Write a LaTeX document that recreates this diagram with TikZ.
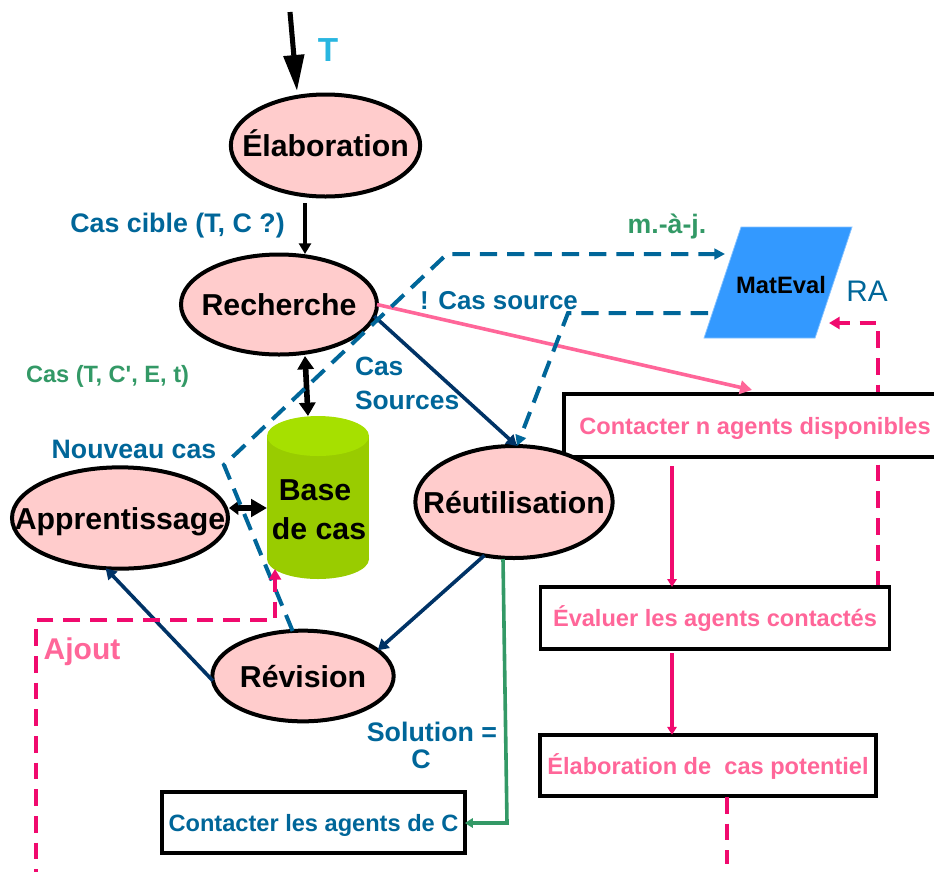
\documentclass[tikz,border=0pt]{standalone}
\usepackage{fontspec}
\setmainfont{Liberation Sans}
\usetikzlibrary{arrows.meta,shapes.geometric}
\definecolor{teal1}{HTML}{006699}
\definecolor{navy1}{HTML}{003366}
\definecolor{green1}{HTML}{339966}
\definecolor{pink1}{HTML}{FF6699}
\definecolor{mag1}{HTML}{F00A6E}
\definecolor{sky1}{HTML}{29B6E0}
\definecolor{rose1}{HTML}{FFCCCC}
\definecolor{cylbody}{HTML}{99CC00}
\definecolor{cyltop}{HTML}{A6E000}
\definecolor{para1}{HTML}{3399FF}
\pgfdeclarelayer{behind}
\pgfsetlayers{behind,main}
\newcommand{\ztext}[1]{\makebox[0pt]{\raisebox{-.37em}[0pt][0pt]{#1}}}
\newcommand{\zbox}[1]{\makebox[0pt]{\raisebox{-.37em}[0pt][0pt]{#1}}}
\tikzset{
  x=0.75pt,y=-0.75pt,
  stage/.style={ellipse,draw=black,line width=3pt,fill=rose1,inner sep=0pt,outer sep=0pt,font=\bfseries\fontsize{22.7}{27}\selectfont,text=black},
  actbox/.style={rectangle,draw=black,line width=2.6pt,fill=white,inner sep=0pt,outer sep=0pt,font=\bfseries\fontsize{17.7}{21}\selectfont},
  lab/.style={inner sep=0pt,outer sep=0pt,font=\bfseries\fontsize{20.1}{20.3}\selectfont,text=teal1},
  blk/.style={draw=black,line width=3pt},
  nav/.style={draw=navy1,line width=2.7pt,-{Triangle[length=8pt,width=9pt]}},
  tdash/.style={draw=teal1,line width=3pt,dash pattern=on 13pt off 7.5pt},
  mdash/.style={draw=mag1,line width=3pt,dash pattern=on 12.5pt off 7.5pt},
}
\begin{document}
\begin{tikzpicture}
\useasboundingbox (0,0) rectangle (934,872);
% cylinder body
\fill[cylbody] (267,436) rectangle (369,559);
\fill[cylbody] (318,559) ellipse [x radius=51,y radius=20];
\fill[cyltop] (318,436) ellipse [x radius=51,y radius=20];
\node[inner sep=0pt,minimum width=76.5pt,minimum height=122pt,align=center,font=\bfseries\fontsize{22.7}{29.5}\selectfont] (base) at (319,510) {Base\hspace*{6pt}\\de cas};
% parallelogram
\fill[para1,draw=para1!60!white,line width=0.6pt] (741,227) -- (852,227) -- (815,338) -- (704,338) -- cycle;
\node[inner sep=0pt,font=\bfseries\fontsize{17.8}{21}\selectfont] (mat) at (781,285) {MatEval};
% stages
\node[stage,minimum width=142pt,minimum height=76.5pt] (elab) at (325.5,145.5) {\ztext{Élaboration}};
\node[stage,minimum width=147pt,minimum height=75pt] (rech) at (279,304.5) {\ztext{Recherche}};
\node[stage,minimum width=162pt,minimum height=76pt] (appr) at (120,518) {\ztext{Apprentissage}};
\node[actbox,minimum width=286.5pt,minimum height=47pt,text=pink1] (ctc) at (755,425.5) {\zbox{Contacter n agents disponibles}};
\node[stage,minimum width=148pt,minimum height=84pt] (reut) at (514,502) {\ztext{Réutilisation}};
\node[stage,minimum width=136pt,minimum height=68pt] (rev) at (303,676) {\ztext{Révision}};
\node[actbox,minimum width=262pt,minimum height=46.5pt,text=pink1] (ev) at (715,618) {\zbox{Évaluer les agents contactés}};
\node[actbox,minimum width=252pt,minimum height=46pt,text=pink1] (pot) at (708,765.5) {\zbox{Élaboration de\ \ cas potentiel}};
\node[actbox,minimum width=227pt,minimum height=46pt,text=teal1] (cta) at (313.5,822.5) {\zbox{Contacter les agents de C}};
% labels
\node[lab,text=sky1,font=\bfseries\fontsize{25}{28}\selectfont] (tT) at (328,50) {T};
\node[lab] (lcible) at (177.5,226) {Cas cible (T, C ?)};
\node[lab,text=green1,font=\bfseries\fontsize{17.7}{20}\selectfont] (lcas) at (107.5,376) {Cas (T, C\textquotesingle, E, t)};
\node[lab,anchor=west,align=left,font=\bfseries\fontsize{19.8}{25.5}\selectfont] (lsrc) at (355,383) {Cas\\Sources};
\node[lab,font=\bfseries\fontsize{20}{22}\selectfont] (lnv) at (134,449) {Nouveau cas};
\node[lab,font=\bfseries\fontsize{19.4}{23}\selectfont] (lone) at (499,301) {! Cas source};
\node[lab,text=green1,font=\bfseries\fontsize{20}{22}\selectfont] (lmaj) at (667,226) {m.-à-j.};
\node[lab,font=\fontsize{22.3}{26}\selectfont] (lra) at (867,291) {RA};
\node[lab,text=pink1,font=\bfseries\fontsize{22.5}{26}\selectfont] (lajout) at (82,652) {Ajout};
\node[lab,align=center] (lsol) at (432,745) {Solution =\\C\hspace*{16.5pt}};
% waypoints
\coordinate (tstart) at (290,12);
\coordinate (tend) at (297,91);
\coordinate (e1) at (305,203);
\coordinate (e2) at (305,254);
\coordinate (b1) at (305,356);
\coordinate (b2) at (308,416);
\coordinate (a1) at (229,508);
\coordinate (a2) at (267,508);
\coordinate (ctop) at (752,390);
\coordinate (td1) at (224,465);
\coordinate (td2) at (447,254);
\coordinate (td3) at (725,254);
\coordinate (td4) at (708,313);
\coordinate (td5) at (568,313);
\coordinate (td6) at (517,446);
\coordinate (g0) at (503,559);
\coordinate (g1) at (507,823);
\coordinate (m0) at (36,872);
\coordinate (m1) at (36,620);
\coordinate (m2) at (275,620);
\coordinate (m3) at (275,569);
\coordinate (m4) at (878,587);
\coordinate (m5) at (878,323);
\coordinate (m6) at (829,323);
\coordinate (s1) at (672,466);
\coordinate (s2) at (672,653);
\coordinate (d1) at (727,797);
\coordinate (d2) at (727,864);
% connectors
\draw[blk,-{Triangle[length=27pt,width=15pt]},line width=3.8pt] (tstart) -- (tend);
\draw[blk,-{Triangle[length=8pt,width=9pt]},line width=2.9pt] (e1) -- (e2);
\draw[blk,{Triangle[length=10pt,width=12pt]}-{Triangle[length=10pt,width=12pt]},line width=4.2pt] (b1) -- (b2);
\draw[blk,{Triangle[length=7pt,width=10pt]}-{Triangle[length=12pt,width=13pt]},line width=4.2pt] (a1) -- (a2);
\draw[nav] (rech.-7) -- (td6);
\draw[nav] (reut.-119) -- (rev.19);
\draw[nav] (rev.183) -- (appr.-106);
\draw[draw=pink1,line width=2.7pt,-{Triangle[length=9pt,width=10pt]}] (rech.east) -- (ctop);
\draw[tdash,-{Triangle[length=8pt,width=8pt]}] (rev.103) -- (td1) -- (td2) -- (td3);
\draw[tdash,-{Triangle[length=8pt,width=8pt]}] (td4) -- (td5) -- (td6);
\draw[draw=green1,line width=2.7pt,-{Triangle[length=6pt,width=7pt]}] (g0) -- (g1) -- (cta.east |- g1);
\draw[mdash,dash phase=3pt,{Triangle[length=8pt,width=9pt]}-] (m3) -- (m2) -- (m1) -- (m0);
\begin{pgfonlayer}{behind}
\draw[mdash,dash phase=4.5pt,{Triangle[length=8pt,width=9pt]}-] (m6) -- (m5) -- (m4);
\end{pgfonlayer}
\draw[draw=mag1,line width=2.7pt,-{Triangle[length=6pt,width=7pt]}] (s1) -- (s1 |- ev.north);
\draw[draw=mag1,line width=2.7pt,-{Triangle[length=6pt,width=7pt]}] (s2) -- (s2 |- pot.north);
\draw[mdash] (d1) -- (d2);
\end{tikzpicture}
\end{document}
